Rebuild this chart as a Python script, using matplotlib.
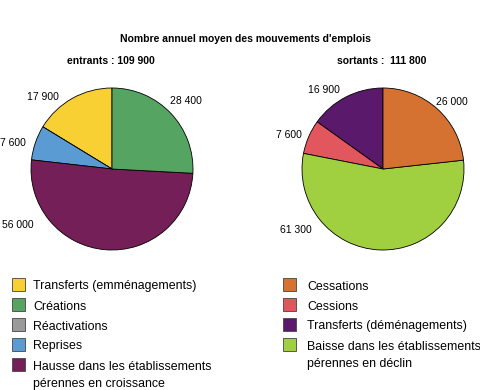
import matplotlib

matplotlib.use("Agg")
import matplotlib.pyplot as plt
import numpy as np
from matplotlib.patches import Rectangle

plt.rcParams["font.family"] = ["Liberation Sans", "DejaVu Sans"]

# entrants (pie drawn counter-clockwise from 12 o'clock)
in_labels = ["Transferts (emménagements)", "Réactivations", "Reprises",
             "Hausse dans les établissements\npérennes en croissance", "Créations"]
in_values = [17900, 0, 7600, 56000, 28400]
in_colors = ["#f8d034", "#9a9a9a", "#5b9bd3", "#741f58", "#55a462"]
in_total = "109 900"

# sortants
out_labels = ["Transferts (déménagements)", "Cessions",
              "Baisse dans les établissements\npérennes en déclin", "Cessations"]
out_values = [16900, 7600, 61300, 26000]
out_colors = ["#5a196a", "#e2575e", "#a0cf40", "#d57231"]
out_total = "111 800"

# legend order as printed under the charts
in_legend = [0, 4, 1, 2, 3]
out_legend = [3, 1, 0, 2]

# label placement (angle in degrees, distance in radii) for each slice
in_label_pos = [(134, 1.23), (None, None), (165, 1.26), (211, 1.35), (43, 1.24)]
out_label_pos = [(127, 1.22), (160, 1.24), (215, 1.31), (44, 1.19)]

W, H = 480, 390


def fmt(v):
    return f"{v:,}".replace(",", " ")


def draw_pie(rect, values, colors, label_pos):
    ax = fig.add_axes(rect)
    ax.pie(values, colors=colors, startangle=90, counterclock=True,
           wedgeprops=dict(edgecolor="black", linewidth=0.6))
    for v, (ang, dist) in zip(values, label_pos):
        if not v:
            continue
        a = np.deg2rad(ang)
        ax.text(dist * np.cos(a), dist * np.sin(a), fmt(v), fontsize=7.5,
                ha="center", va="center")
    ax.set_xlim(-1, 1)
    ax.set_ylim(-1, 1)
    ax.set_aspect("equal")
    ax.axis("off")
    return ax


def legend(x, text_x, y0, labels, colors, order):
    # y0 = centre of the first swatch, in pixels from the top
    for row, i in enumerate(order):
        y = y0 + 20 * row
        fig.patches.append(Rectangle((x / W, 1 - (y + 6.5) / H), 13 / W, 13 / H,
                                     transform=fig.transFigure, facecolor=colors[i],
                                     edgecolor="#444444", linewidth=0.6))
        for k, line in enumerate(labels[i].split("\n")):
            fig.text(text_x / W, 1 - (y + 1 + 18 * k) / H, line, fontsize=8.9,
                     va="center_baseline", ha="left")


fig = plt.figure(figsize=(W / 100, H / 100), dpi=100)

fig.text(245 / W, 1 - 39 / H, "Nombre annuel moyen des mouvements d'emplois",
         fontsize=7.5, fontweight="bold", ha="center", va="center")
fig.text(111 / W, 1 - 61 / H, "entrants : " + in_total, fontsize=7.5,
         fontweight="bold", ha="center", va="center")
fig.text(382 / W, 1 - 61 / H, "sortants :  " + out_total, fontsize=7.5,
         fontweight="bold", ha="center", va="center")

r = 81
draw_pie([(112 - r) / W, 1 - (169 + r) / H, 2 * r / W, 2 * r / H],
         in_values, in_colors, in_label_pos)
draw_pie([(383 - r) / W, 1 - (169 + r) / H, 2 * r / W, 2 * r / H],
         out_values, out_colors, out_label_pos)

legend(12, 33, 284, in_labels, in_colors, in_legend)
legend(283, 307, 284, out_labels, out_colors, out_legend)

fig.savefig("out.png")
